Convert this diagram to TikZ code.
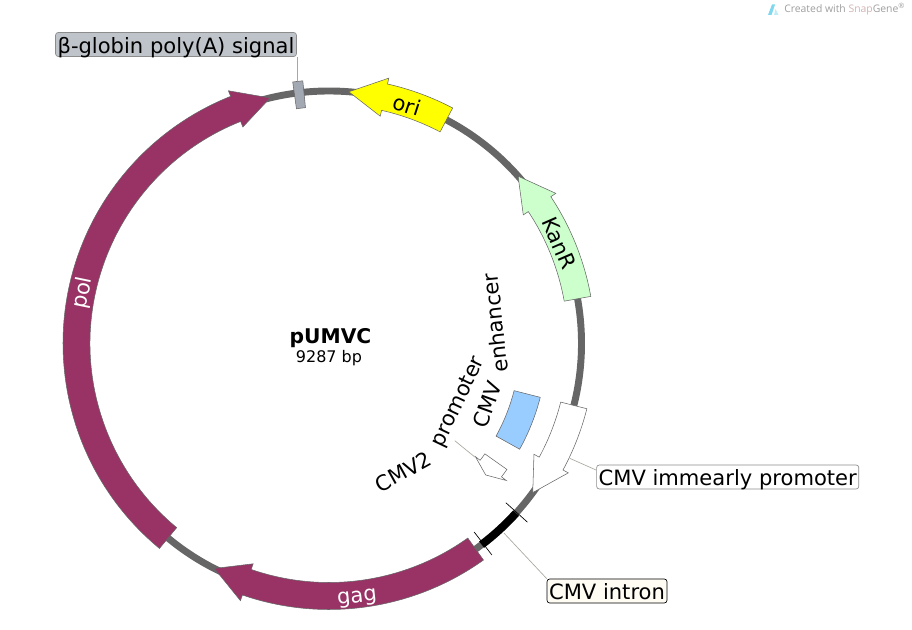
\documentclass[tikz,border=0pt]{standalone}
\usepackage{fontspec}
\setmainfont{DejaVu Sans}
\newfontfamily\logofont{Open Sans}
\usepackage{tikz}
\usepackage{xcolor}
\definecolor{ringgray}{HTML}{666666}
\definecolor{genemaroon}{HTML}{993366}
\definecolor{oriyellow}{RGB}{255,255,0}
\definecolor{kangreen}{HTML}{CCFFCC}
\definecolor{enhblue}{HTML}{99CCFF}
\definecolor{logocyan}{HTML}{7FD8EE}
\definecolor{termgray}{HTML}{A3A9B3}
\definecolor{polyfill}{HTML}{BFC3CA}
\definecolor{leadgray}{HTML}{A8A8A0}
\definecolor{intronfill}{HTML}{FFFCF3}
\newcommand{\featfont}{\fontsize{15.8}{18}\selectfont}
% style, tail angle, neck angle, tip angle, inner radius, outer radius
\newcommand{\gene}[6]{
  \draw[feature, #1] (#2:#6) arc[start angle=#2, end angle=#3, radius=#6]
    -- ({#3}:{#6+6}) -- ({#4}:{(#5+#6)/2}) -- ({#3}:{#5-6}) -- (#3:#5)
    arc[start angle=#3, end angle=#2, radius=#5] -- cycle;
}
% style, start angle, end angle, inner radius, outer radius
\newcommand{\block}[5]{
  \draw[feature, #1] (#2:#5) arc[start angle=#2, end angle=#3, radius=#5]
    -- (#3:#4) arc[start angle=#3, end angle=#2, radius=#4] -- cycle;
}
\tikzset{
  feature/.style={draw=black!60, line width=0.4pt},
  snaplabel/.style={draw=black!45, rounded corners=2pt, line width=0.5pt,
                    inner xsep=1.5pt, inner ysep=0pt, text height=15.5pt, text depth=2.5pt},
  leader/.style={draw=leadgray, line width=0.5pt}
}
\begin{document}
\begin{tikzpicture}[x=0.75pt, y=0.75pt, every node/.style={font=\featfont, inner sep=0pt}]
  \useasboundingbox (0,0) rectangle (912,630);

  % credit line, top right
  \fill[logocyan] (768,615) -- (772,625.5) -- (775,625.5) -- (773,619.5) -- (771.5,615) -- cycle;
  \fill[logocyan!50] (774,615) -- (778.5,615) -- (775.5,621) -- cycle;
  \node[anchor=west, font=\logofont\fontsize{7.8}{10}\selectfont, text=black!38] (credit) at (784,620.5)
       {Created with \textcolor{red!40!black!30!white}{Snap}Gene\textsuperscript{®}};

  % plasmid centre
  \begin{scope}[shift={(329,286.5)}]
    % backbone
    \draw[ringgray, line width=5.2pt] (0,0) circle (252.5);
    \draw[black, line width=6pt] (-42.2:252.5) arc[start angle=-42.2, end angle=-52.8, radius=252.5];
    \foreach \ang in {-42,-52.4}
      \draw[black, line width=0.5pt] (\ang:238) -- (\ang:267);

    % features
    \gene{fill=genemaroon}{230.4}{111.7}{103.5}{239}{266}
    \gene{fill=genemaroon}{305.5}{251}{243}{239}{266}
    \gene{fill=oriyellow}{62.3}{77.3}{85.5}{239}{266}
    \gene{fill=kangreen}{10.2}{33.5}{41.5}{239}{266}
    \gene{fill=white}{-14.2}{-28.4}{-36.2}{239}{266}
    \gene{fill=white}{-35.3}{-37.7}{-40}{191}{218}
    \block{fill=enhblue}{-14.3}{-29}{191}{218}
    \block{fill=termgray}{95.7}{97.9}{237}{264}

    \coordinate (polylead) at (96.84:264);
    \coordinate (immlead) at (-25.5:267);
    \coordinate (intronlead) at (-47.3:258);
    \coordinate (twolead) at (-37.9:185);
    \coordinate (twofree) at (-37.7:159);

    % labels on the arrows
    \foreach \nme/\ang/\rad/\rot/\lab/\col in {orilab/71.9/251/-18/ori/black,
        kanlab/23.6/251/-66.4/KanR/black, pollab/168.4/251/78.4/pol/white,
        gaglab/-83.7/257/6.3/gag/white}
      \node[rotate=\rot, text=\col] (\nme) at (\ang:\rad) {\lab};

    % words set around the inside of the ring
    \foreach \nme/\ang/\rad/\rot/\lab in {cmvone/-21.1/169.6/70/CMV,
        enhancer/7/167.3/96/enhancer, cmvtwo/-59.9/148.2/29/CMV2,
        promoter/-24.3/142.5/64.5/promoter}
      \node[rotate=\rot] (\nme) at (\ang:\rad) {\lab};
  \end{scope}

  % title
  \node[font=\fontsize{15.2}{18}\selectfont\bfseries] (title) at (330.5,292) {pUMVC};
  \node[font=\fontsize{12}{14}\selectfont] (size) at (329,272) {9287 bp};

  % boxed labels
  \node[snaplabel, fill=polyfill] (polylabel) at (176,585.5) {β-globin poly(A) signal};
  \node[snaplabel, fill=white] (immlabel) at (727.7,153) {CMV immearly promoter};
  \node[snaplabel, fill=intronfill, draw=black] (intronlabel) at (607,39) {CMV intron};

  % leaders
  \draw[leader] (polylead) -- (polylead |- polylabel.south);
  \draw[leader] (immlead) -- (immlabel.177);
  \draw[leader] (intronlead) -- (intronlabel.north west);
  \draw[leader] (twolead) -- (twofree);
\end{tikzpicture}
\end{document}
